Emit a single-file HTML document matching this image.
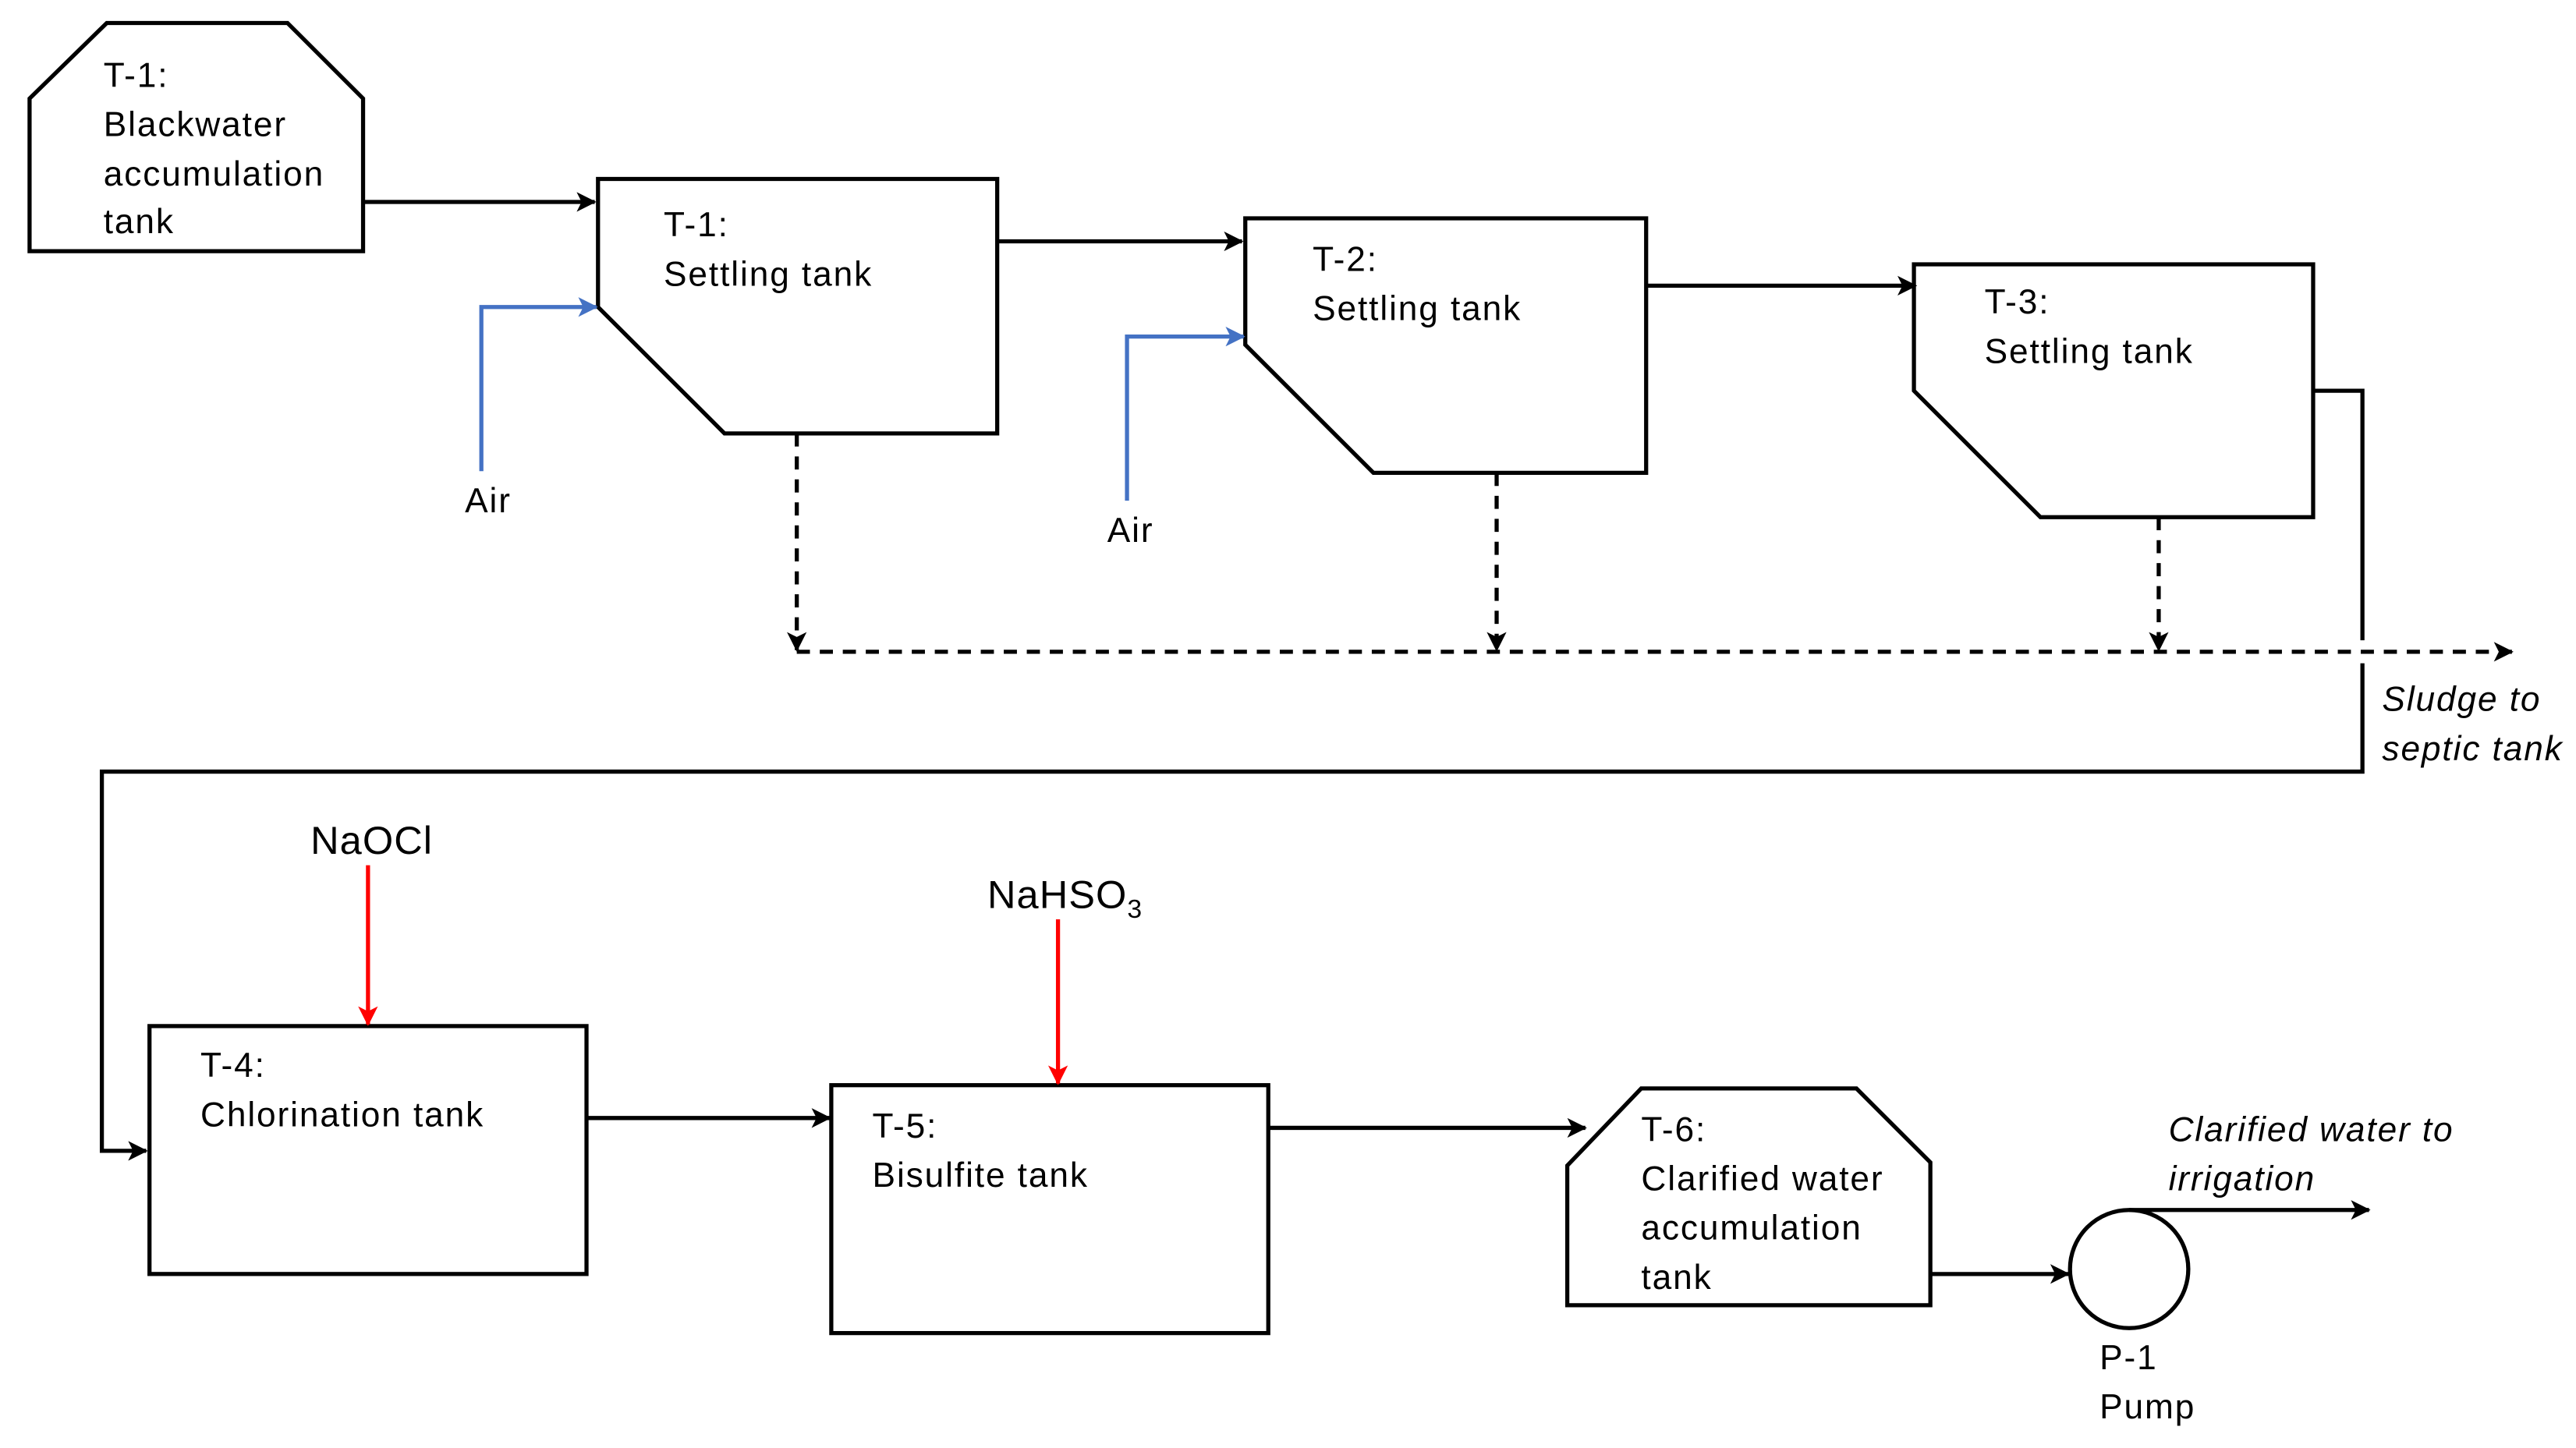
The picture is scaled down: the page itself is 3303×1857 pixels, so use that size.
<!DOCTYPE html>
<html><head><meta charset="utf-8"><style>html,body{margin:0;padding:0;background:#fff}svg{display:block}</style></head>
<body>
<svg width="3303" height="1857" viewBox="0 0 1568 882" preserveAspectRatio="none" xmlns="http://www.w3.org/2000/svg">
<defs>
<marker id="ak" markerWidth="12" markerHeight="12" refX="11" refY="6" orient="auto" markerUnits="userSpaceOnUse"><path d="M0,0 L12,6 L0,12 L3,6 z" fill="#000"/></marker>
<marker id="ab" markerWidth="12" markerHeight="12" refX="11" refY="6" orient="auto" markerUnits="userSpaceOnUse"><path d="M0,0 L12,6 L0,12 L3,6 z" fill="#4472C4"/></marker>
<marker id="ar" markerWidth="12" markerHeight="12" refX="11" refY="6" orient="auto" markerUnits="userSpaceOnUse"><path d="M0,0 L12,6 L0,12 L3,6 z" fill="#FF0000"/></marker>
</defs>
<g fill="none" stroke="#000" stroke-width="2.5">
<polygon points="18,60 65,14 175,14 221,60 221,153 18,153"/>
<polygon points="364,109 607,109 607,264 441,264 364,187"/>
<polygon points="758,133 1002,133 1002,288 836,288 758,210"/>
<polygon points="1165,161 1408,161 1408,315 1242,315 1165,238"/>
<rect x="91" y="625" width="266" height="151"/>
<rect x="506" y="661" width="266" height="151"/>
<polygon points="954,710 999,663 1130,663 1175,708 1175,795 954,795"/>
<circle cx="1296" cy="773" r="36"/>
<line x1="221" y1="123" x2="362" y2="123" marker-end="url(#ak)"/>
<line x1="607" y1="147" x2="756" y2="147" marker-end="url(#ak)"/>
<line x1="1002" y1="174" x2="1166" y2="174" marker-end="url(#ak)"/>
<polyline points="1408,238 1438,238 1438,390"/>
<polyline points="1438,404 1438,470 62,470 62,701 89,701" marker-end="url(#ak)"/>
<line x1="357" y1="681" x2="505" y2="681" marker-end="url(#ak)"/>
<line x1="772" y1="687" x2="965" y2="687" marker-end="url(#ak)"/>
<line x1="1175" y1="776" x2="1259" y2="776" marker-end="url(#ak)"/>
<line x1="1296" y1="737" x2="1442" y2="737" marker-end="url(#ak)"/>
</g>
<g fill="none" stroke="#000" stroke-width="2.5" stroke-dasharray="8,6">
<line x1="485" y1="264" x2="485" y2="396" marker-end="url(#ak)"/>
<line x1="911" y1="288" x2="911" y2="396" marker-end="url(#ak)"/>
<line x1="1314" y1="315" x2="1314" y2="396" marker-end="url(#ak)"/>
<line x1="485" y1="397" x2="1529" y2="397" marker-end="url(#ak)"/>
</g>
<g fill="none" stroke="#4472C4" stroke-width="2.5">
<polyline points="293,287 293,187 363,187" marker-end="url(#ab)"/>
<polyline points="686,305 686,205 757,205" marker-end="url(#ab)"/>
</g>
<g fill="none" stroke="#FF0000" stroke-width="2.5">
<line x1="224" y1="527" x2="224" y2="624" marker-end="url(#ar)"/>
<line x1="644" y1="560" x2="644" y2="660" marker-end="url(#ar)"/>
</g>
<g font-family="Liberation Sans, sans-serif" font-size="21" letter-spacing="0.9" fill="#000">
<text x="63" y="53">T-1:</text><text x="63" y="83">Blackwater</text><text x="63" y="113">accumulation</text><text x="63" y="142">tank</text>
<text x="404" y="144">T-1:</text><text x="404" y="174">Settling tank</text>
<text x="799" y="165">T-2:</text><text x="799" y="195">Settling tank</text>
<text x="1208" y="191">T-3:</text><text x="1208" y="221">Settling tank</text>
<text x="283" y="312">Air</text><text x="674" y="330">Air</text>
<text x="122" y="656">T-4:</text><text x="122" y="686">Chlorination tank</text>
<text x="531" y="693">T-5:</text><text x="531" y="723">Bisulfite tank</text>
<text x="999" y="695">T-6:</text><text x="999" y="725">Clarified water</text><text x="999" y="755">accumulation</text><text x="999" y="785">tank</text>
<text x="1278" y="834">P-1</text><text x="1278" y="864">Pump</text>
<g font-style="italic"><text x="1450" y="433">Sludge to</text><text x="1450" y="463">septic tank</text>
<text x="1320" y="695">Clarified water to</text><text x="1320" y="725">irrigation</text></g>
<text x="189" y="520" font-size="24" letter-spacing="0.5">NaOCl</text>
<text x="601" y="553" font-size="24" letter-spacing="0.5">NaHSO<tspan font-size="16" dy="6">3</tspan></text>
</g>
</svg>
</body></html>
